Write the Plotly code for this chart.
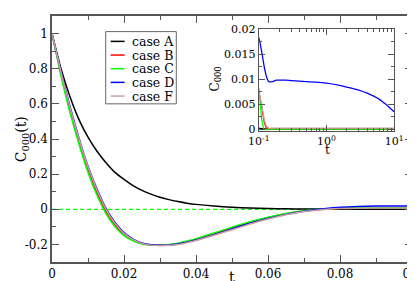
import plotly.graph_objects as go

# ---------------- data ----------------
t = [0, 0.0025, 0.005, 0.0075, 0.01, 0.0125, 0.015, 0.0175, 0.02, 0.0225, 0.025,
     0.0275, 0.03, 0.0325, 0.035, 0.0375, 0.04, 0.045, 0.05, 0.055, 0.06, 0.065,
     0.07, 0.075, 0.08, 0.085, 0.09, 0.095, 0.1,
     0.11, 0.12, 0.13, 0.14, 0.16, 0.18, 0.2, 0.25, 0.3, 0.4, 0.5, 0.7, 1.0,
     1.5, 2.0, 3.0, 4.0, 5.0, 6.0, 7.0, 8.0, 10.0]

case_A = [1.0, 0.80, 0.64, 0.51, 0.41, 0.33, 0.265, 0.21, 0.17, 0.135, 0.108,
          0.086, 0.069, 0.055, 0.044, 0.035, 0.028, 0.018, 0.011, 0.007, 0.004, 0.0025,
          0.0015, 0.001, 0.0006, 0.0004, 0.0003, 0.0002, 0.0002,
          0.0001, 0.0001, 0, 0, 0, 0, 0, 0, 0, 0, 0, 0, 0,
          0, 0, 0, 0, 0, 0, 0, 0, 0]
case_B = [1.0, 0.77, 0.565, 0.385, 0.225, 0.095, -0.012, -0.09, -0.143, -0.176, -0.195,
          -0.203, -0.205, -0.202, -0.195, -0.184, -0.171, -0.139, -0.106, -0.075, -0.048, -0.026,
          -0.01, 0.0, 0.006, 0.0085, 0.0088, 0.0082, 0.0075,
          0.0045, 0.0015, 0.0002, 0, 0, 0, 0, 0, 0, 0, 0, 0, 0,
          0, 0, 0, 0, 0, 0, 0, 0, 0]
case_C = [1.0, 0.76, 0.55, 0.37, 0.21, 0.08, -0.025, -0.10, -0.15, -0.18, -0.197,
          -0.204, -0.205, -0.201, -0.193, -0.181, -0.167, -0.135, -0.102, -0.071, -0.045, -0.024,
          -0.008, 0.002, 0.007, 0.0092, 0.0095, 0.009, 0.0081,
          0.002, 0.0, -0.0001, 0, 0, 0, 0, 0, 0, 0, 0, 0, 0,
          0, 0, 0, 0, 0, 0, 0, 0, 0]
case_D = [1.0, 0.785, 0.585, 0.405, 0.245, 0.115, 0.005, -0.075, -0.133, -0.17, -0.192,
          -0.202, -0.205, -0.203, -0.197, -0.187, -0.175, -0.145, -0.112, -0.08, -0.052, -0.029,
          -0.011, 0.002, 0.011, 0.016, 0.018, 0.0185, 0.0182,
          0.0155, 0.0125, 0.0104, 0.0095, 0.0095, 0.0098, 0.0098, 0.0098, 0.0097, 0.0096, 0.0095, 0.0094, 0.0092,
          0.0088, 0.0084, 0.0078, 0.0072, 0.0066, 0.006, 0.0053, 0.0047, 0.0035]
case_F = [1.0, 0.78, 0.58, 0.40, 0.24, 0.11, 0.0, -0.08, -0.137, -0.173, -0.194,
          -0.204, -0.207, -0.205, -0.2, -0.19, -0.178, -0.148, -0.116, -0.084, -0.055, -0.031,
          -0.013, -0.002, 0.004, 0.0065, 0.0072, 0.0072, 0.007,
          0.005, 0.002, 0.0006, 0.0002, 0.0002, 0.0002, 0.0002, 0.0002, 0.0002, 0.0002, 0.0002, 0.0002, 0.0002,
          0.0002, 0.0002, 0.0002, 0.0002, 0.0002, 0.0002, 0.0002, 0.0002, 0.0002]

names = ["case A", "case B", "case C", "case D", "case F"]
series = [case_A, case_B, case_C, case_D, case_F]
colors = ["#000000", "#ff0000", "#00ff00", "#0000ff", "#c9a0a0"]

main_xticks = [0, 0.02, 0.04, 0.06, 0.08, 0.1]
main_xtext = ["0", "0.02", "0.04", "0.06", "0.08", "0.1"]
main_yticks = [-0.2, 0, 0.2, 0.4, 0.6, 0.8, 1.0]
main_ytext = ["-0.2", "0", "0.2", "0.4", "0.6", "0.8", "1"]
inset_xticks = [0.1, 1, 10]
inset_xtext = ["10<sup>-1</sup>", "10<sup>0</sup>", "10<sup>1</sup>"]
inset_yticks = [0, 0.005, 0.01, 0.015, 0.02]
inset_ytext = ["0", "0.005", "0.01", "0.015", "0.02"]
zero_x = [0, 0.1]
zero_y = [0, 0]

# ---------------- layout geometry ----------------
W, H = 415, 281
ML, MR, MT, MB = 44, 9, 2, 27
PW, PH = W - ML - MR, H - MT - MB


def px(x):
    return (x - ML) / PW


def py(y):
    return (H - MB - y) / PH


FONT = "DejaVu Serif"
AXC = "#555555"

fig = go.Figure()

fig.add_trace(go.Scatter(x=zero_x, y=zero_y, mode="lines",
                         line=dict(color="#00ff00", width=1.2, dash="4px,3px"),
                         xaxis="x", yaxis="y", showlegend=False))

for n, s, c in zip(names, series, colors):
    fig.add_trace(go.Scatter(x=t, y=s, mode="lines", name=n,
                             line=dict(color=c, width=1.5, shape="spline", smoothing=0.6),
                             xaxis="x", yaxis="y", showlegend=False))

for n, s, c in zip(names, series, colors):
    fig.add_trace(go.Scatter(x=t, y=s, mode="lines", name=n,
                             line=dict(color=c, width=1.3, shape="spline", smoothing=0.5),
                             xaxis="x2", yaxis="y2", showlegend=False))

axis_common = dict(showgrid=False, zeroline=False, showline=True, linecolor=AXC,
                   linewidth=1.5, mirror="allticks", ticks="inside", tickcolor=AXC,
                   tickwidth=1, tickfont=dict(family=FONT, size=12, color="#000"))

fig.update_layout(
    width=W, height=H,
    margin=dict(l=ML, r=MR, t=MT, b=MB),
    paper_bgcolor="white", plot_bgcolor="white",
    showlegend=False,
    font=dict(family=FONT, color="#000"),
    xaxis=dict(range=[0, 0.1], tickvals=main_xticks, ticktext=main_xtext,
               ticklen=7, minor=dict(dtick=0.01, ticks="inside", ticklen=4, tickcolor=AXC),
               domain=[0, 1], **axis_common),
    yaxis=dict(range=[-0.3, 1.1], tickvals=main_yticks, ticktext=main_ytext,
               ticklen=7, minor=dict(dtick=0.1, ticks="inside", ticklen=4, tickcolor=AXC),
               domain=[0, 1], **axis_common),
)

inset_common = dict(axis_common)
inset_common["tickfont"] = dict(family=FONT, size=11, color="#000")
inset_common["linewidth"] = 1.2

ix0, ix1 = px(252), px(388)
iy0, iy1 = py(120), py(15.3)

minor_log = [m * 10 ** e for e in (-1, 0) for m in range(2, 10)]

fig.update_layout(
    xaxis2=dict(type="log", range=[-1, 1], tickvals=inset_xticks, ticktext=inset_xtext,
                ticklen=6, minor=dict(tickvals=minor_log, ticks="inside", ticklen=3, tickcolor=AXC),
                domain=[ix0, ix1], anchor="y2", **inset_common),
    yaxis2=dict(range=[-0.0004, 0.02], tickvals=inset_yticks, ticktext=inset_ytext,
                ticklen=6, minor=dict(dtick=0.0025, ticks="inside", ticklen=3, tickcolor=AXC),
                domain=[iy0, iy1], anchor="x2", **inset_common),
)

# axis titles
fig.add_annotation(x=px(14), y=0.5, xref="paper", yref="paper", text="C<sub>000</sub>(t)",
                   textangle=-90, xanchor="center", yanchor="middle", showarrow=False,
                   font=dict(family=FONT, size=14, color="#000"))
fig.add_annotation(x=px(225), y=py(269), xref="paper", yref="paper", text="t",
                   xanchor="center", yanchor="middle",
                   showarrow=False, font=dict(family=FONT, size=14, color="#000"))
fig.add_annotation(x=px(209), y=py(67), xref="paper", yref="paper", text="C<sub>000</sub>",
                   textangle=-90, xanchor="center", yanchor="middle", showarrow=False,
                   font=dict(family=FONT, size=12, color="#000"))
fig.add_annotation(x=px(321), y=py(139), xref="paper", yref="paper", text="t",
                   xanchor="center", yanchor="middle",
                   showarrow=False, font=dict(family=FONT, size=12, color="#000"))

# custom legend box
fig.add_shape(type="rect", xref="paper", yref="paper",
              x0=px(98), x1=px(169), y0=py(92), y1=py(18),
              line=dict(color="#666", width=1), fillcolor="white", layer="above")
rows = [28, 42, 56, 70, 84]
for n, c, r in zip(names, colors, rows):
    fig.add_shape(type="line", xref="paper", yref="paper",
                  x0=px(103), x1=px(117), y0=py(r), y1=py(r),
                  line=dict(color=c, width=1.5), layer="above")
    fig.add_annotation(x=px(122), y=py(r), xref="paper", yref="paper", text=n,
                       xanchor="left", yanchor="middle", showarrow=False,
                       font=dict(family=FONT, size=12.5, color="#000"))

fig.write_html("out.html")
